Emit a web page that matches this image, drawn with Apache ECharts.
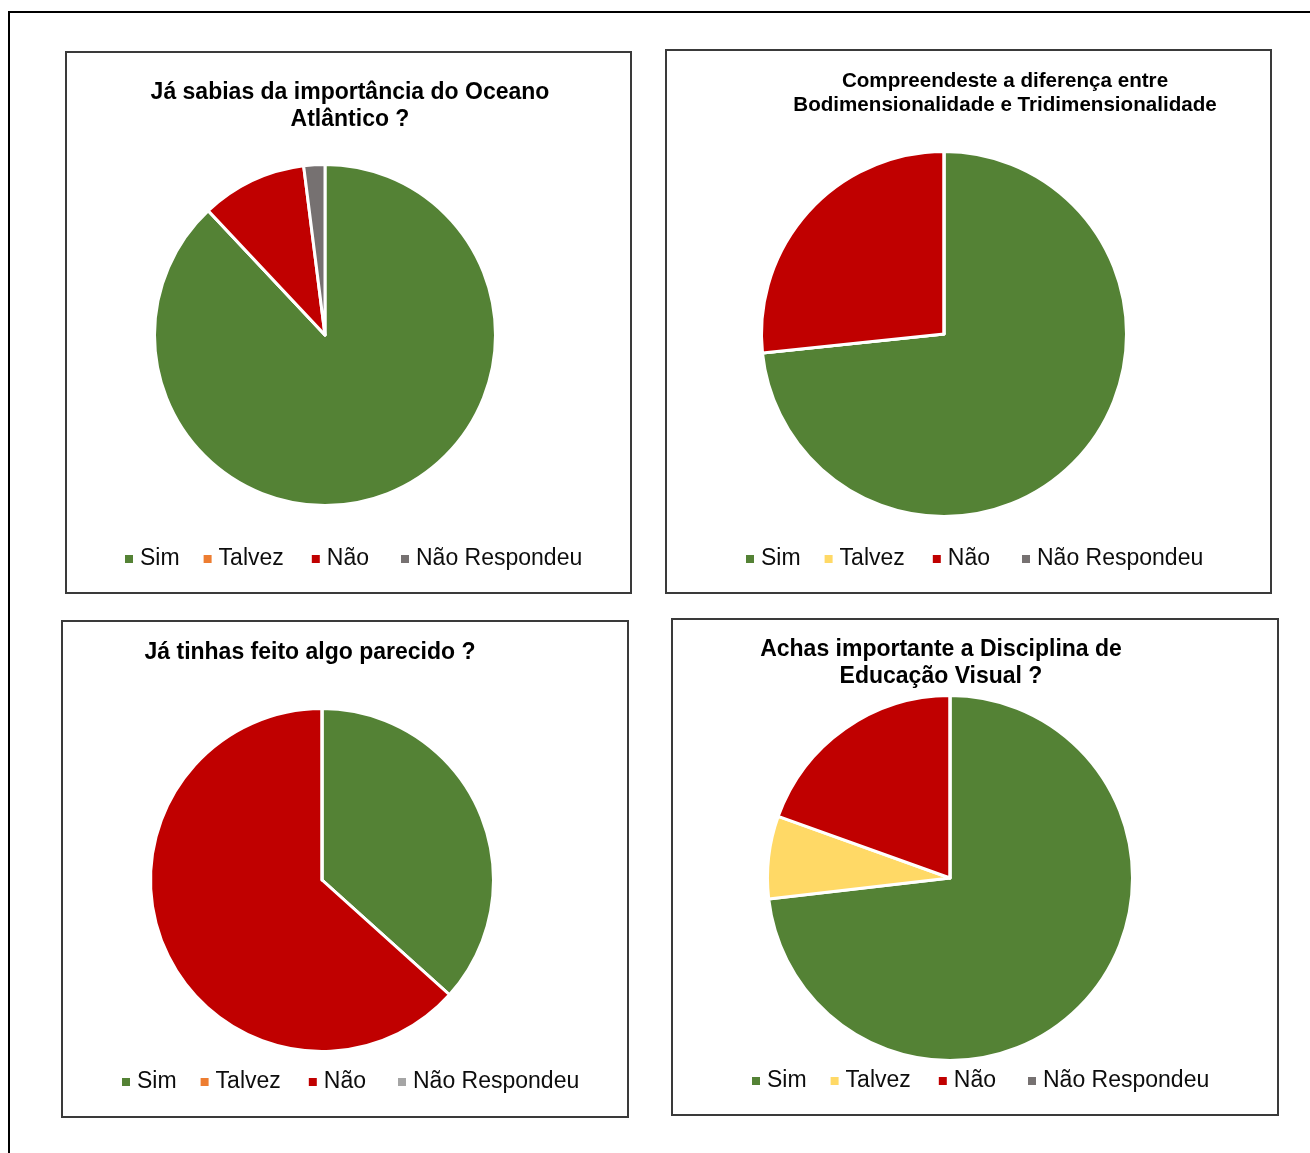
<!DOCTYPE html>
<html>
<head>
<meta charset="utf-8">
<script src="https://cdn.jsdelivr.net/npm/echarts@6/dist/echarts.min.js"></script>
<style>
  html, body { margin: 0; padding: 0; background: #fff; width: 1310px; height: 1153px; overflow: hidden; }
  #frame { position: absolute; left: 8px; top: 11px; width: 1400px; height: 1300px; border: 2px solid #000; }
  .panel { position: absolute; border: 2px solid #3a3a3a; background: #fff; }
</style>
</head>
<body>
<div id="frame"></div>
<div class="panel" id="c1" style="left:65px;top:51px;width:563px;height:539px;"></div>
<div class="panel" id="c2" style="left:665px;top:49px;width:603px;height:541px;"></div>
<div class="panel" id="c3" style="left:61px;top:620px;width:564px;height:494px;"></div>
<div class="panel" id="c4" style="left:671px;top:618px;width:604px;height:494px;"></div>
<script>
// ---- Data ----
const categories = ['Sim', 'Talvez', 'Não', 'Não Respondeu'];

const chart1Title = 'Já sabias da importância do Oceano\nAtlântico ?';
const chart1Values = [44, 0, 5, 1];

const chart2Title = 'Compreendeste a diferença entre\nBodimensionalidade e Tridimensionalidade';
const chart2Values = [22, 0, 8, 0];

const chart3Title = 'Já tinhas feito algo parecido ?';
const chart3Values = [11, 0, 19, 0];

const chart4Title = 'Achas importante a Disciplina de\nEducação Visual ?';
const chart4Values = [30, 3, 8, 0];

// ---- Styles ----
const FONT = "'Liberation Sans', Arial, sans-serif";
const colors1 = ['#548235', '#ED7D31', '#C00000', '#767171'];
const colors2 = ['#548235', '#FFD966', '#C00000', '#767171'];
const colors3 = ['#548235', '#ED7D31', '#C00000', '#A5A5A5'];
const colors4 = ['#548235', '#FFD966', '#C00000', '#767171'];
// extra right padding after each legend label (layout only)
const legendPad = [0, 4, 8, 0];

function build(id, cfg) {
  const chart = echarts.init(document.getElementById(id), null, { renderer: 'canvas' });
  const rich = {};
  categories.forEach((c, i) => {
    rich['p' + i] = { fontFamily: FONT, fontSize: 23, lineHeight: 24, color: '#0d0d0d',
                      padding: [0, legendPad[i], 0, 2] };
  });
  chart.setOption({
    animation: false,
    title: {
      text: cfg.title,
      left: cfg.titleX,
      top: cfg.titleY,
      textAlign: 'center',
      padding: 0,
      textStyle: {
        fontFamily: FONT, fontWeight: 'bold', fontSize: cfg.titleSize,
        lineHeight: cfg.titleLH, color: '#000'
      }
    },
    legend: {
      data: categories,
      left: cfg.legendX,
      top: cfg.legendY,
      padding: 0,
      itemGap: 24,
      itemWidth: 8,
      itemHeight: 8,
      icon: 'rect',
      selectedMode: false,
      itemStyle: { borderWidth: 0 },
      formatter: name => '{p' + categories.indexOf(name) + '|' + name + '}',
      textStyle: {
        fontFamily: FONT, fontSize: 23, lineHeight: 24, color: '#0d0d0d',
        rich: rich
      }
    },
    series: [{
      type: 'pie',
      center: cfg.center,
      radius: cfg.radius,
      startAngle: 90,
      clockwise: true,
      label: { show: false },
      labelLine: { show: false },
      emphasis: { disabled: true },
      silent: true,
      itemStyle: { borderColor: '#fff', borderWidth: 3 },
      data: categories.map((name, i) => ({
        name: name,
        value: cfg.values[i],
        itemStyle: { color: cfg.colors[i] }
      }))
    }]
  });
}

build('c1', { title: chart1Title, values: chart1Values, colors: colors1,
  titleX: 283, titleY: 26, titleSize: 23, titleLH: 27,
  legendX: 58, legendY: 494, center: [258, 282], radius: 170.5 });
build('c2', { title: chart2Title, values: chart2Values, colors: colors2,
  titleX: 338, titleY: 18, titleSize: 20.6, titleLH: 24,
  legendX: 79, legendY: 496, center: [277, 283], radius: 182.5 });
build('c3', { title: chart3Title, values: chart3Values, colors: colors3,
  titleX: 247, titleY: 17, titleSize: 23, titleLH: 27,
  legendX: 59, legendY: 448, center: [259, 258], radius: 171.5 });
build('c4', { title: chart4Title, values: chart4Values, colors: colors4,
  titleX: 268, titleY: 16, titleSize: 23, titleLH: 27,
  legendX: 79, legendY: 449, center: [277, 258], radius: 182.5 });
</script>
</body>
</html>
